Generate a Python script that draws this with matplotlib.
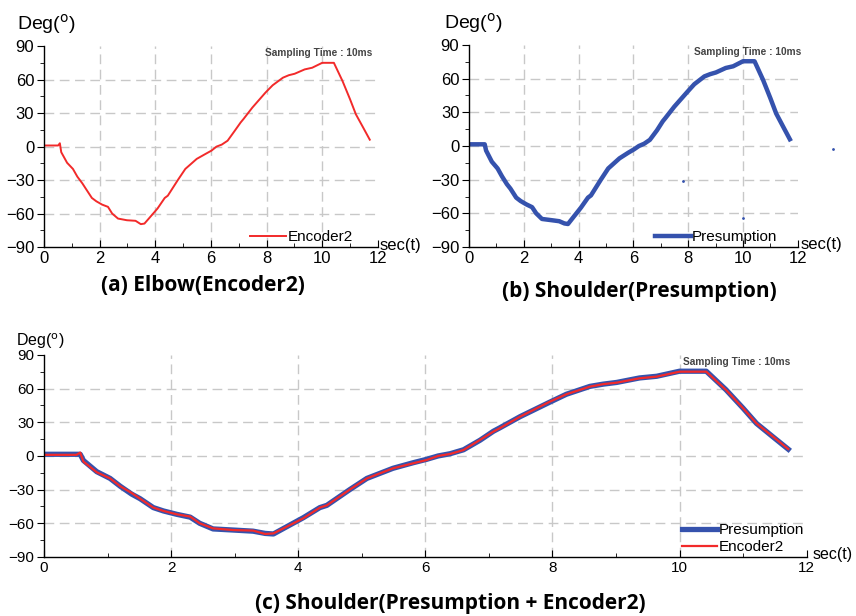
import numpy as np
import matplotlib.pyplot as plt
from matplotlib.ticker import MultipleLocator

plt.rcParams['font.family'] = ['Liberation Sans', 'DejaVu Sans']

# 데이터
time = [0.0, 0.51, 0.57, 0.62, 0.83, 1.04, 1.2, 1.38, 1.51, 1.72, 1.88,
        2.09, 2.3, 2.45, 2.66, 2.98, 3.29, 3.48, 3.61, 3.82, 4.08, 4.34,
        4.45, 4.81, 5.08, 5.49, 5.81, 6.02, 6.2, 6.39, 6.6, 6.86, 7.07,
        7.17, 7.49, 7.96, 8.22, 8.59, 8.8, 9.01, 9.37, 9.64, 10.0, 10.42,
        10.73, 11.0, 11.21, 11.47, 11.71]
encoder2 = [1, 1, 3, -5, -14.5, -20, -27, -33, -38, -46, -49,
            -52, -54, -60, -64.5, -66, -66.5, -69.5, -69, -63, -55.5, -46,
            -44, -30, -20, -11, -6.5, -3.6, 0, 1.8, 5.3, 14.3, 21.7,
            24.7, 35, 48.4, 55, 61.8, 64, 65.3, 69.2, 70.7, 75.1, 75.1,
            58.8, 42.5, 29, 17.2, 6.2]
presumption = [1.5, 1.5, 1.5, -4, -14, -20, -27, -34, -38, -46, -49,
               -52, -54.5, -60, -65, -66, -67, -69, -69.5, -63, -55, -46,
               -44, -30, -20, -11, -6, -3, 0, 2, 5.5, 14, 22,
               25, 35, 48, 55, 62, 64, 65.5, 69.5, 71, 75.5, 75.5,
               59, 42.5, 29, 17, 6]
stray_t = [7.8, 10.0]
stray_v = [-31, -64]

x_ticks = [0, 2, 4, 6, 8, 10, 12]
y_ticks = [-90, -60, -30, 0, 30, 60, 90]

RED = '#f22a2a'
BLUE = '#3552ad'
TITLE_FONT = ['Open Sans', 'DejaVu Sans']


def style_axes(ax, tick_size):
    ax.set_xlim(0, 12)
    ax.set_ylim(-90, 90)
    ax.set_xticks(x_ticks)
    ax.set_yticks(y_ticks)
    ax.xaxis.set_minor_locator(MultipleLocator(1))
    ax.yaxis.set_minor_locator(MultipleLocator(15))
    for s in ['top', 'right']:
        ax.spines[s].set_visible(False)
    for s in ['left', 'bottom']:
        ax.spines[s].set_linewidth(1.0)
    ax.tick_params(axis='y', which='major', direction='out', length=5, labelsize=tick_size, pad=2)
    ax.tick_params(axis='y', which='minor', direction='out', length=3)
    ax.tick_params(axis='x', which='major', direction='in', length=5, labelsize=tick_size, pad=3)
    ax.tick_params(axis='x', which='minor', direction='in', length=3)
    ax.grid(True, which='major', color='#c8c8c8', linestyle=(0, (7, 4)), linewidth=1.0)
    ax.set_axisbelow(True)
    # 축 끝 격자선은 숨김
    xg = ax.xaxis.get_gridlines()
    yg = ax.yaxis.get_gridlines()
    for g in (xg[0], xg[-1], yg[0], yg[-1]):
        g.set_visible(False)


fig = plt.figure(figsize=(8.56, 6.16), dpi=100)
ax_a = fig.add_axes([0.0514, 0.599, 0.390, 0.326])
ax_b = fig.add_axes([0.548, 0.599, 0.384, 0.328])
ax_c = fig.add_axes([0.0514, 0.0958, 0.891, 0.328])

deg_label = r'Deg($^{\mathrm{o}}$)'
samp = 'Sampling Time : 10ms'

# (a) Elbow
style_axes(ax_a, 12)
ax_a.plot(time, encoder2, color=RED, lw=1.4, label='Encoder2')
ax_a.text(-0.08, 1.11, deg_label, transform=ax_a.transAxes, fontsize=14, va='center', ha='left')
ax_a.text(1.005, 0.01, 'sec(t)', transform=ax_a.transAxes, fontsize=12, va='center', ha='left')
ax_a.text(7.95, 84, samp, fontsize=7.3, color='#444444', fontweight='bold', va='center')
ax_a.legend(loc='lower right', bbox_to_anchor=(0.935, 0.0), frameon=False, fontsize=11,
            handlelength=2.3, handletextpad=0.15, borderaxespad=0, borderpad=0.2)
fig.text(0.2366, 0.536, '(a) Elbow(Encoder2)', fontsize=15, fontweight='bold',
         ha='center', va='center', family=TITLE_FONT)

# (b) Shoulder
style_axes(ax_b, 12)
ax_b.plot(time, presumption, color=BLUE, lw=3.2, label='Presumption')
ax_b.plot(stray_t, stray_v, '.', color=BLUE, ms=2)
ax_b.plot([13.3], [-3], '.', color=BLUE, ms=2, clip_on=False)
ax_b.text(-0.075, 1.11, deg_label, transform=ax_b.transAxes, fontsize=14, va='center', ha='left')
ax_b.text(1.01, 0.01, 'sec(t)', transform=ax_b.transAxes, fontsize=12, va='center', ha='left')
ax_b.text(8.2, 84, samp, fontsize=7.3, color='#444444', fontweight='bold', va='center')
ax_b.legend(loc='lower right', bbox_to_anchor=(0.945, 0.0), frameon=False, fontsize=11,
            handlelength=2.3, handletextpad=0.05, borderaxespad=0, borderpad=0.2)
fig.text(0.7465, 0.526, '(b) Shoulder(Presumption)', fontsize=15, fontweight='bold',
         ha='center', va='center', family=TITLE_FONT)

# (c) Shoulder + Encoder2
style_axes(ax_c, 11)
ax_c.plot(time, presumption, color=BLUE, lw=3.8, label='Presumption')
ax_c.plot(time, encoder2, color=RED, lw=1.6, label='Encoder2')
ax_c.text(-0.037, 1.07, deg_label, transform=ax_c.transAxes, fontsize=11.5, va='center', ha='left')
ax_c.text(1.008, 0.01, 'sec(t)', transform=ax_c.transAxes, fontsize=11.5, va='center', ha='left')
ax_c.text(10.05, 84, samp, fontsize=7.3, color='#444444', fontweight='bold', va='center')
ax_c.legend(loc='lower right', bbox_to_anchor=(1.0, 0.0), frameon=False, fontsize=11,
            handlelength=2.3, handletextpad=0.1, borderaxespad=0, borderpad=0.2, labelspacing=0.2)
fig.text(0.5257, 0.021, '(c) Shoulder(Presumption + Encoder2)', fontsize=15, fontweight='bold',
         ha='center', va='center', family=TITLE_FONT)

fig.savefig('out.png', dpi=100)
